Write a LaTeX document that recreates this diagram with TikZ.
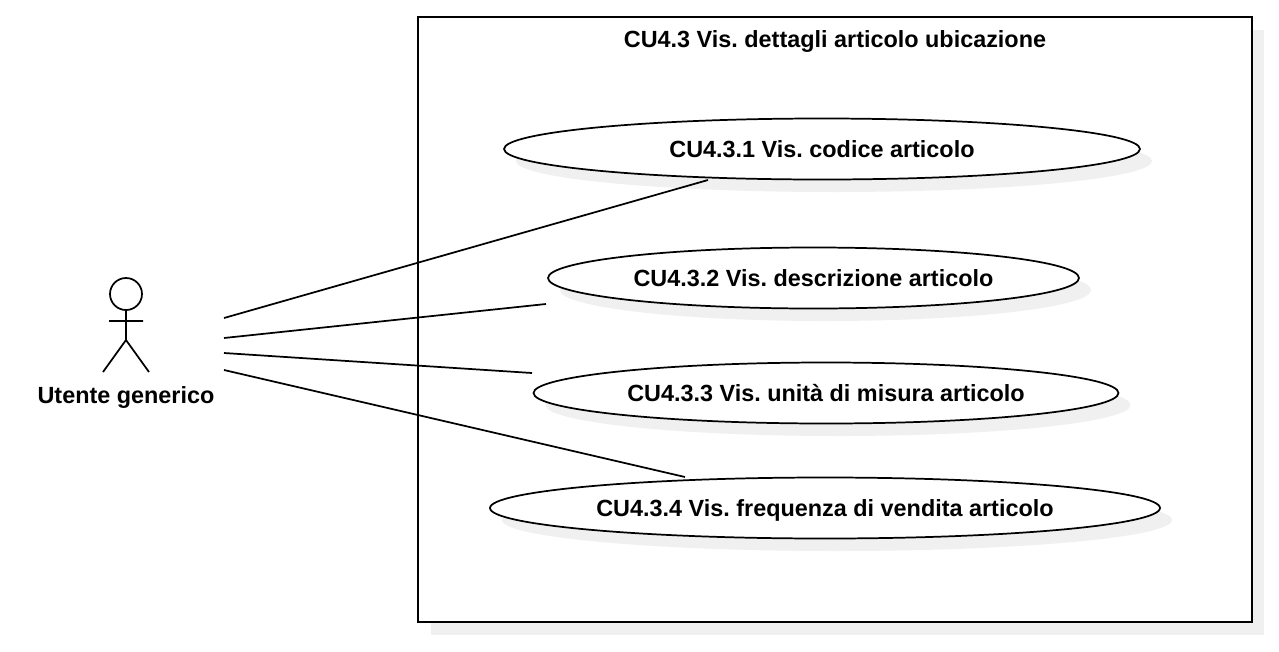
\documentclass[tikz,border=0pt]{standalone}
\usepackage{fontspec}
\setmainfont{Liberation Sans}
\usetikzlibrary{shapes.geometric}
\definecolor{shadowc}{RGB}{240,240,240}
\tikzset{x=0.75pt,y=-0.75pt,
 usecase/.style={ellipse,draw=black,line width=1.3pt,fill=white,inner sep=0pt,font=\frenchspacing\bfseries\fontsize{17.55}{19}\selectfont,text=black,text height=14pt,text depth=2pt},
 conn/.style={draw=black,line width=1.3pt},
 lbl/.style={font=\frenchspacing\bfseries\fontsize{17.55}{19}\selectfont,text=black,inner sep=0pt,text height=14pt,text depth=2pt}}
\begin{document}
\begin{tikzpicture}
\useasboundingbox (0,0) rectangle (1279,651);
\fill[white] (0,0) rectangle (1279,651);
\fill[shadowc] (431,30) rectangle (1264,635);
\node[draw=black,fill=white,line width=1.3pt,minimum width=834*0.75pt,minimum height=605*0.75pt,inner sep=0pt,outer sep=0pt,anchor=north west] (sys) at (418,17) {};
\node[lbl] (title) at (835,39.5) {CU4.3 Vis. dettagli articolo ubicazione};
\foreach \cx/\cy/\w in {822/149/636,813.5/278/531,826/393/585,825/508/670}{
 \fill[shadowc] (\cx+12,\cy+12) ellipse ({\w/2} and 31);
}
\node[usecase,minimum width=636*0.75pt,minimum height=61*0.75pt] (u1) at (822,149) {CU4.3.1 Vis. codice articolo};
\node[usecase,minimum width=531*0.75pt,minimum height=61*0.75pt] (u2) at (813.5,278) {CU4.3.2 Vis. descrizione articolo};
\node[usecase,minimum width=585*0.75pt,minimum height=61*0.75pt] (u3) at (826,393) {CU4.3.3 Vis. unità di misura articolo};
\node[usecase,minimum width=670*0.75pt,minimum height=61*0.75pt] (u4) at (825,508) {CU4.3.4 Vis. frequenza di vendita articolo};
\node[lbl] (actor) at (126,395.5) {Utente generico};
\draw[conn] (126,294) circle (16);
\draw[conn] (126,310) -- (126,340) (109,321) -- (143,321) (103,372) -- (126,340) -- (149,372);
\coordinate (a1) at (224,318); \coordinate (e1) at (708,180);
\coordinate (a2) at (224,338); \coordinate (e2) at (546,304);
\coordinate (a3) at (224,353); \coordinate (e3) at (532,373);
\coordinate (a4) at (224,370); \coordinate (e4) at (685,477);
\draw[conn] (a1) -- (e1);
\draw[conn] (a2) -- (e2);
\draw[conn] (a3) -- (e3);
\draw[conn] (a4) -- (e4);
\end{tikzpicture}
\end{document}
